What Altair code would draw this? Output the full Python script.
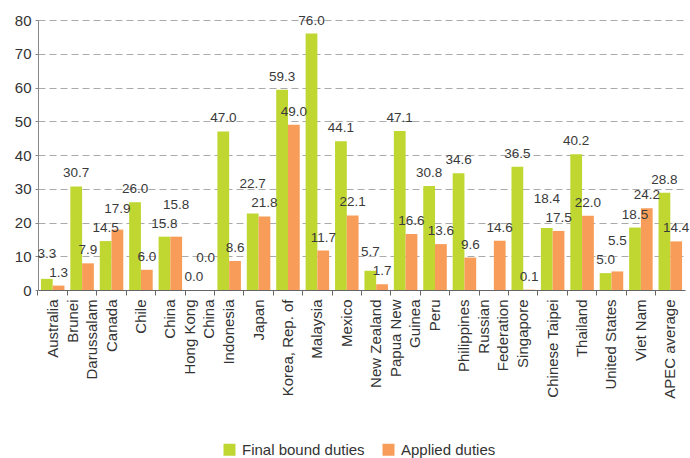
import altair as alt
import pandas as pd

economies = [
    "Australia", "Brunei|Darussalam", "Canada", "Chile", "China", "Hong Kong|China",
    "Indonesia", "Japan", "Korea, Rep. of", "Malaysia", "Mexico", "New Zealand",
    "Papua New|Guinea", "Peru", "Philippines", "Russian|Federation", "Singapore",
    "Chinese Taipei", "Thailand", "United States", "Viet Nam", "APEC average",
]
final_bound = [3.3, 30.7, 14.5, 26.0, 15.8, 0.0, 47.0, 22.7, 59.3, 76.0, 44.1, 5.7,
               47.1, 30.8, 34.6, None, 36.5, 18.4, 40.2, 5.0, 18.5, 28.8]
applied = [1.3, 7.9, 17.9, 6.0, 15.8, 0.0, 8.6, 21.8, 49.0, 11.7, 22.1, 1.7,
           16.6, 13.6, 9.6, 14.6, 0.1, 17.5, 22.0, 5.5, 24.2, 14.4]
y_ticks = [0, 10, 20, 30, 40, 50, 60, 70, 80]
series = ["Final bound duties", "Applied duties"]
colors = ["#BFD730", "#F79D59"]

rows = []
for name, fb, ap in zip(economies, final_bound, applied):
    for s, v in zip(series, [fb, ap]):
        rows.append({"economy": name, "series": s, "value": v,
                     "label": "" if v is None else f"{v:.1f}"})
df = pd.DataFrame(rows)

FONT = "Liberation Sans"

x = alt.X("economy:N", sort=economies, title=None,
          scale=alt.Scale(paddingInner=0.2, paddingOuter=0.1),
          axis=alt.Axis(labelAngle=-90, labelExpr="split(datum.label, '|')",
                        labelFontSize=15, labelColor="#333333", labelFont=FONT,
                        labelLineHeight=19, labelPadding=4,
                        labelOffset={"condition": {"test": "indexof(datum.label, '|') >= 0",
                                                   "value": -9.5}, "value": 0},
                        bandPosition=-0.125, tickSize=5, tickColor="#666666",
                        domainColor="#666666", grid=False))
xoff = alt.XOffset("series:N", sort=series, scale=alt.Scale(domain=series))
y_scale = alt.Scale(domain=[y_ticks[0], y_ticks[-1]], nice=False)
y_axis = alt.Axis(values=y_ticks, labelFontSize=15,
                  labelColor="#333333", labelFont=FONT, labelPadding=4,
                  tickSize=3, tickColor="#888888", domainColor="#888888",
                  grid=True, gridDash=[7, 4], gridColor="#aaaaaa", gridWidth=1)
y = alt.Y("value:Q", title=None, scale=y_scale, axis=y_axis)

bars = alt.Chart(df).mark_bar().encode(
    x=x, xOffset=xoff, y=y,
    color=alt.Color("series:N", sort=series,
                    scale=alt.Scale(domain=series, range=colors),
                    legend=alt.Legend(title=None, orient="none", direction="horizontal",
                                      legendX=184, legendY=422, symbolType="square",
                                      symbolSize=144, symbolStrokeWidth=0,
                                      labelFontSize=15, labelFont=FONT,
                                      labelColor="#333333", labelOffset=5,
                                      columnPadding=16, padding=0)),
)

# labels of two close bars in a group: the higher one is lifted above the lower one's label
base = alt.Chart(df).transform_filter("isValid(datum.value)").transform_joinaggregate(
    vmax="max(value)", vmin="min(value)", n="valid(value)", groupby=["economy"]
).transform_calculate(
    raised="datum.n == 2 && (datum.vmax - datum.vmin) < 4.5 && "
           "((datum.value == datum.vmax && datum.vmax != datum.vmin) || "
           "(datum.vmax == datum.vmin && datum.series == 'Applied duties'))"
)
text_style = dict(fontSize=13.5, font=FONT, color="#3a3a3a", baseline="middle")
labels = base.transform_filter("!datum.raised").mark_text(dy=-13, **text_style).encode(
    x=x, xOffset=xoff, y=y, text="label:N")
labels_up = base.transform_filter("datum.raised").mark_text(dy=-32, **text_style).encode(
    x=x, xOffset=xoff, y=alt.Y("vmin:Q", title=None, scale=y_scale, axis=y_axis),
    text="label:N")

chart = alt.layer(bars, labels, labels_up).properties(
    width=647, height=270,
    autosize=alt.AutoSizeParams(type="none"),
    padding={"left": 38, "top": 20, "right": 5, "bottom": 168},
).configure_view(stroke=None)

chart.save("out.html", embed_options={"renderer": "svg", "actions": False})
